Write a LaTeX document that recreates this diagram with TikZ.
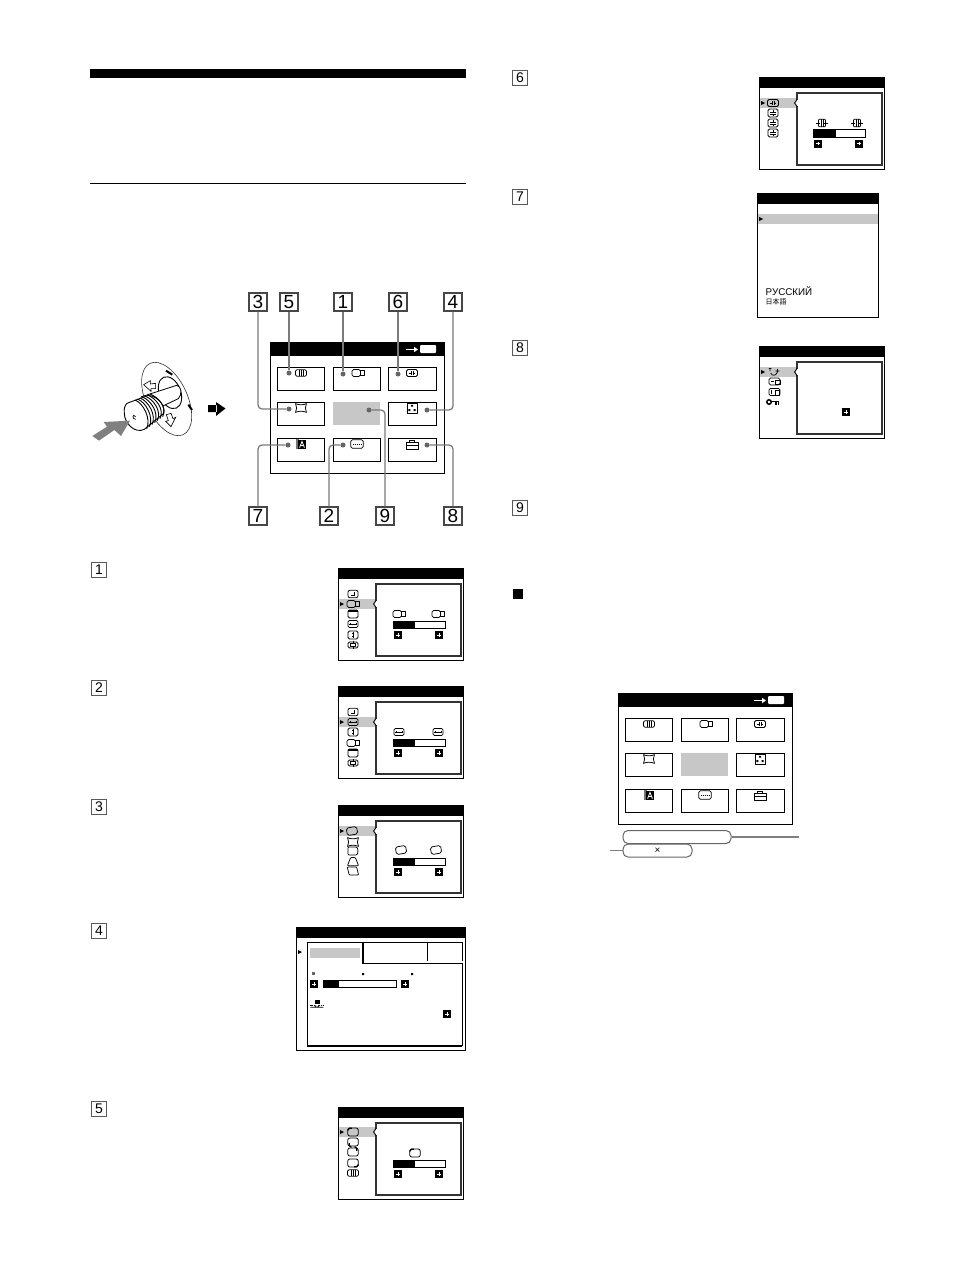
\documentclass[tikz,border=0pt]{standalone}
\usepackage{fontspec}
\setmainfont{Liberation Sans}
\newfontfamily\jpfont{Noto Sans CJK JP}
\definecolor{osdgrey}{gray}{0.78}
\tikzset{
  numbox/.style={draw=black!72,line width=1.05pt,minimum size=18pt,inner sep=0pt,font=\fontsize{19}{19}\selectfont},
  smallbox/.style={draw=black!65,line width=1pt,minimum size=14.5pt,inner sep=0pt,font=\fontsize{14}{14}\selectfont},
  leader/.style={draw=black!52,line width=1.25pt,rounded corners=4pt},
  leaddot/.style={circle,fill=black!60,minimum size=5pt,inner sep=0pt},
  softlabel/.style={draw=black!60,line width=1pt,rounded corners=5pt,inner sep=0pt},
  ico/.style={line width=.75pt,line join=round},
  frame/.style={draw=black,line width=.9pt},
  iconIII/.pic={\draw[ico,rounded corners=1.5pt] (-5.6,-3.2) rectangle (5.6,3.2);
    \draw[ico] (-2,-3)--(-2,3) (0,-3)--(0,3) (2,-3)--(2,3);},
  iconsize/.pic={\draw[ico,rounded corners=1.5pt] (-6,-3.4) rectangle (2.5,3.4);
    \draw[ico] (2.5,-2.2) rectangle (6.5,2.2);},
  iconmid/.pic={\draw[ico,rounded corners=1.5pt] (-5.5,-3.5) rectangle (5.5,3.5);
    \draw[line width=.9pt] (-.8,-2.4)--(-.8,2.4) (1,-2.4)--(1,2.4) (-3.2,0)--(-1.2,0) (1.4,0)--(3.4,0);},
  iconpin/.pic={\draw[ico] (-5.5,-4.4) .. controls (-2,-2.8) and (2,-2.8) .. (5.5,-4.4)
    .. controls (4,-1.5) and (4,1.5) .. (5.5,4.4) .. controls (2,2.8) and (-2,2.8) .. (-5.5,4.4)
    .. controls (-4,1.5) and (-4,-1.5) .. (-5.5,-4.4) -- cycle;},
  icondots/.pic={\draw[ico] (-5,-5) rectangle (5,5);
    \fill (-1,-3.2) rectangle (1,-1.4) (-3.6,1) rectangle (-1.6,3) (1.6,1) rectangle (3.6,3);},
  iconlang/.pic={\fill[black!55] (-5,-5) rectangle (-2,5);
    \fill (-3,-4) rectangle (5,5);
    \draw[white,line width=.8pt] (-1.4,3.6)--(1,-2.6)--(3.4,3.6) (-.4,1.4)--(2.4,1.4);},
  iconspan/.pic={\draw[ico,rounded corners=1.5pt] (-6.2,-4.2) rectangle (6.2,4.2);
    \draw[line width=.9pt,dash pattern=on 1.3pt off .7pt] (-4.4,0)--(4.4,0);},
  icontool/.pic={\draw[ico] (-6,-2.4) rectangle (6,4.2) (-6,.6)--(6,.6) (-2.8,-2.4)--(-2.8,-4.4)--(2.8,-4.4)--(2.8,-2.4);},
  iconclock/.pic={\draw[ico,rounded corners=2pt] (-5,-3.8) rectangle (5,3.8);
    \draw[line width=.9pt] (1.8,-1.8)--(1.8,1)--(-2,1);},
  iconshift/.pic={\draw[ico,rounded corners=1.5pt] (-5,-4) rectangle (5,4);
    \fill (-5,-4) rectangle (5,-2.2);},
  iconhoriz/.pic={\draw[ico,rounded corners=1.5pt] (-5,-3.6) rectangle (5,3.6);
    \draw[line width=.7pt] (-3.6,0)--(3.6,0) (-3,-1)--(-3,1) (3,-1)--(3,1);},
  iconvert/.pic={\draw[ico,rounded corners=1.5pt] (-5,-4) rectangle (5,4);
    \draw[line width=.9pt] (0,-2.8)--(0,2.8) (-1.2,-1.4)--(1.2,-1.4) (-1.2,1.4)--(1.2,1.4);},
  iconcross/.pic={\draw[ico,rounded corners=1.5pt] (-5,-3) rectangle (5,3);
    \draw[ico] (-2.4,-1.4) rectangle (2.4,1.4) (0,-4.4)--(0,-1.4) (0,1.4)--(0,4.4);},
  iconskew/.pic={\draw[ico,rounded corners=1.8pt,rotate=10] (-5.2,-3.8) rectangle (5.2,3.8);},
  icontrapb/.pic={\draw[ico,rounded corners=.8pt] (-5,-4)--(3.6,-4)..controls (5.2,-2) and (5.2,2)..(3.6,4)--(-5,4)--cycle;},
  icontrapa/.pic={\draw[ico,rounded corners=.8pt] (-2.4,-4.4)--(2.4,-4.4)--(5.6,3.8)--(-5.6,3.8)--cycle;},
  iconpara/.pic={\draw[ico,rounded corners=.8pt] (-5.8,-4)--(3.6,-4)--(5.6,4)--(-3.8,4)--cycle;},
  iconcorner/.pic={\draw[ico,rounded corners=2pt] (-5.2,-4) rectangle (5.2,4);
    \draw[rotate=#1,line width=1.2pt,rounded corners=1.5pt] (-5,-1.4)--(-5,-3.8)--(-1.2,-3.8);},
  iconwidth/.pic={\draw[ico,rounded corners=1pt] (-3.6,-3.8) rectangle (3.6,3.8);
    \draw[line width=1pt] (-1,-3.6)--(-1,3.6) (1,-3.6)--(1,3.6) (-6.2,0)--(-2,0) (2,0)--(6.2,0);},
  iconlines/.pic={\draw[ico,rounded corners=1.5pt] (-5,-4) rectangle (5,4);
    \draw[line width=.7pt] (-3,-1)--(3,-1) (-3,1.2)--(3,1.2) (0,-3)--(0,-1.4) (0,1.6)--(0,3);},
  icontilt/.pic={\draw[ico] (-4,-4)--(-4,-1) (-5.2,-3.4)--(-2.6,-3.4) (-3.4,1)..controls (-2,4.2) and (2,4.2)..(3.4,0)--(3.4,-3) (1.4,-1)--(5.4,-1);},
  iconhbox/.pic={\draw[ico,rounded corners=1.5pt] (-6,-3.4) rectangle (5,3.4);
    \draw[ico] (.5,-1) rectangle (5,3);\draw[line width=.7pt] (-4.4,-.4)--(-1,-.4);},
  iconvbox/.pic={\draw[ico,rounded corners=1.5pt] (-6,-3.6) rectangle (5,3.6);
    \draw[ico] (.2,-1.6) rectangle (4,3);\draw[line width=.7pt] (-3.4,-2)--(-3.4,2.4);},
  iconkey/.pic={\draw[line width=1.5pt] (-4,0) circle (2.2pt);
    \draw[line width=1.6pt] (-1.6,-.5)--(6.4,-.5);\draw[line width=1.1pt] (3,0)--(3,2.6) (5.4,0)--(5.4,2.6);},
  iconconv/.pic={\fill (-2.4,-3.6) rectangle (2.8,-.2);
    \draw[line width=1pt,dash pattern=on 1.2pt off .6pt] (-6.6,1.2)--(-2.4,1.2) (2,1.2)--(6.4,1.2);
    \draw[line width=.9pt] (-6.6,3.2)--(6.4,3.2) (-2.4,1.2)--(-.8,3.2) (2,1.2)--(.6,3.2);},
  menubtn/.pic={\fill (-3.6,-4) rectangle (3.6,4);
    \fill[white] (-1.6,-.5) rectangle (1.6,.5);\fill[white] (-.5,-1.6) rectangle (.5,1.6);},
  osdbar/.pic={\draw[line width=.9pt] (0,0) rectangle (52,7.5);
    \fill (0,0) rectangle (#1,7.5);
    \pic at (5,14) {menubtn};\pic at (46,14) {menubtn};},
  osdside/.pic={\draw[frame,fill=white] (0,0) rectangle (125.5,92);
    \fill (0,0) rectangle (125.5,11);
    \fill[osdgrey] (1,#1-5) rectangle (38,#1+5);
    \draw[black!80,line width=1.05pt,fill=white] (38,16) rectangle (123,88);
    \draw[line width=.9pt,fill=white] (38.4,#1-4)--(35.6,#1)--(38.4,#1+4);
    \fill[white] (37.6,#1-3.2) rectangle (39.2,#1+3.2);
    \fill (2,#1-2)--(6,#1)--(2,#1+2)--cycle;},
  mainmenu/.pic={\draw[frame,fill=white] (0,0) rectangle (174,131);
    \fill (0,0) rectangle (174,14);
    \fill[white,rounded corners=1pt] (150,3) rectangle (166,11);
    \draw[white,line width=.9pt] (136,7.5)--(145,7.5);
    \fill[white] (144,4.8)--(148,7.5)--(144,10.2)--cycle;
    \foreach \cx/\cw in {7/47,63/47,118/48}
      \foreach \ry in {25,60,96}
        \draw[line width=.9pt] (\cx,\ry) rectangle ++(\cw,23);
    \fill[white] (62,59) rectangle (112,84);
    \fill[osdgrey] (63,60) rectangle (110,83);
    \pic at (31,31) {iconIII};\pic at (88,31) {iconsize};\pic at (142,31) {iconmid};
    \pic at (31,66) {iconpin};\pic at (142,66) {icondots};
    \pic at (31,102) {iconlang};\pic at (87,102) {iconspan};\pic at (142,103) {icontool};},
}
\begin{document}
\begin{tikzpicture}[x=1pt,y=-1pt]
\useasboundingbox (0,0) rectangle (954,1274);
\fill (90,69) rectangle (466,78);
\draw[line width=1.1pt] (90,183.5)--(466,183.5);

% knob
\begin{scope}[shift={(85,350)},x=.3333pt,y=-.3333pt]
  \draw[line width=.6pt,black!80,fill=white,rotate around={25:(245,147)}] (245,147) ellipse (62 and 118);
  \draw[line width=.9pt,fill=white,rotate around={22:(255,128)}] (255,128) ellipse (32 and 50);
  \draw[line width=.6pt,fill=white] (176,104)--(196,92)--(196,102)--(212,100)--(212,116)--(198,116)--(198,124)--cycle;
  \draw[line width=.6pt,fill=white] (258,230)--(242,214)--(250,212)--(244,194)--(258,190)--(264,206)--(272,202)--cycle;
  \draw[line width=2pt] (243,62)--(262,74) (310,164)--(321,180);
  \draw[line width=.8pt,fill=white] (170,140)--(275,106)..controls (290,108) and (292,134)..(280,146)--(225,172)--cycle;
  \draw[line width=.9pt,fill=white] (126,160)--(190,136)..controls (226,140) and (244,176)..(234,192)--(178,238)
    ..controls (150,252) and (118,220)..(118,190)..controls (116,176) and (120,166)..(126,160)--cycle;
  \foreach \s in {0,...,6}
    \draw[line width=.9pt] (150+\s*7.5,150-\s*3) .. controls +(26,10) and +(14,-28) .. (185+\s*8,236-\s*6);
  \draw[line width=.7pt] (152,200)..controls (142,188) and (140,208)..(152,208);
  \fill[black!50] (22,258)--(66,230)--(56,216)--(135,212)--(108,258)--(88,240)--(42,272)--cycle;
\end{scope}
\fill (208,405) rectangle (217,412) (216,402)--(225.5,408.5)--(216,416)--cycle;

% main menu with call-outs
\pic at (270,342) {mainmenu};
\node[numbox] (num3) at (258,302) {3};
\node[numbox] (num5) at (289,302) {5};
\node[numbox] (num1) at (343,302) {1};
\node[numbox] (num6) at (398,302) {6};
\node[numbox] (num4) at (453,302) {4};
\node[numbox] (num7) at (258,516) {7};
\node[numbox] (num2) at (329,516) {2};
\node[numbox] (num9) at (385,516) {9};
\node[numbox] (num8) at (453,516) {8};
\node[leaddot] (dot3) at (289,409) {};
\node[leaddot] (dot5) at (289,373) {};
\node[leaddot] (dot1) at (343,374) {};
\node[leaddot] (dot6) at (398,374) {};
\node[leaddot] (dot4) at (427,410) {};
\node[leaddot] (dot7) at (288,445) {};
\node[leaddot] (dot2) at (343,445) {};
\node[leaddot] (dot9) at (369,410) {};
\node[leaddot] (dot8) at (427,445) {};
\draw[leader] (num3.south) |- (dot3);
\draw[leader] (num5.south) -- (dot5);
\draw[leader] (num1.south) -- (dot1);
\draw[leader] (num6.south) -- (dot6);
\draw[leader] (num4.south) |- (dot4);
\draw[leader] (num7.north) |- (dot7);
\draw[leader] (num2.north) |- (dot2);
\draw[leader] (num9.north) |- (dot9);
\draw[leader] (num8.north) |- (dot8);

% item numbers
\foreach \nm/\px/\py in {1/99/570,2/99/688,3/99/807,4/99/931,5/99/1109,6/520/78,7/520/197,8/520/348,9/520/508}
  \node[smallbox] (item\nm) at (\px,\py) {\nm};
\fill (513,589) rectangle (523,599);

% panel 1
\pic at (338,568) {osdside=36};
\pic at (353,594) {iconclock};\pic at (353,604) {iconsize};\pic at (353,614) {iconshift};
\pic at (353,624) {iconhoriz};\pic at (353,635) {iconvert};\pic at (353,645) {iconcross};
\pic at (399,614) {iconsize};\pic at (438,614) {iconsize};
\pic at (393,621) {osdbar=22};

% panel 2
\pic at (338,686) {osdside=36};
\pic at (353,712) {iconclock};\pic at (353,722) {iconhoriz};\pic at (353,732) {iconvert};
\pic at (353,743) {iconsize};\pic at (353,753) {iconshift};\pic at (353,763) {iconcross};
\pic at (399,732) {iconhoriz};\pic at (438,732) {iconhoriz};
\pic at (393,739) {osdbar=22};

% panel 3
\pic at (338,805) {osdside=26};
\pic at (352,831) {iconskew};\pic at (353,842) {iconpin};\pic at (353,851) {icontrapb};
\pic at (353,862) {icontrapa};\pic at (353,871) {iconpara};
\pic at (401,850) {iconskew};\pic at (436,850) {iconskew};
\pic at (393,858) {osdbar=22};

% panel 4
\draw[frame] (296,927) rectangle (465.5,1050);
\fill (296,927) rectangle (465.5,938);
\fill[osdgrey] (310,948) rectangle (360,958);
\draw[line width=.9pt] (307,1046)--(307,942)--(363,942) (363,942)--(462,942) (427,942)--(427,961) (462,942)--(462,961);
\draw[line width=1.4pt] (363,942)--(363,963.5);
\draw[line width=.9pt] (362.5,963)--(462,963)--(462,1046);
\draw[line width=1.4pt] (307,1046)--(462,1046);
\fill (298,950)--(302,952)--(298,954)--cycle;
\fill[black!60] (311.5,971.5) rectangle (314.5,974.5);
\fill (362,973) rectangle (364,975) (411,973) rectangle (413,975);
\pic at (314,984) {menubtn};\pic at (405,984) {menubtn};
\draw[line width=.9pt] (323,980.5) rectangle (396,987.5);
\fill (323,980.5) rectangle (339,987.5);
\pic at (317,1004) {iconconv};
\pic at (447,1014) {menubtn};

% panel 5
\pic at (338,1107) {osdside=25};
\pic at (353,1132) {iconcorner=0};\pic at (353,1142) {iconcorner=90};\pic at (353,1152) {iconcorner=270};
\pic at (353,1163) {iconcorner=180};\pic at (353,1173) {iconIII};
\pic at (415,1153) {iconcorner=0};
\pic at (393,1160) {osdbar=22};

% panel 6
\pic at (759,77) {osdside=26};
\pic at (773,103) {iconmid};\pic at (773,113) {iconlines};\pic at (773,123) {iconlines};\pic at (773,133) {iconlines};
\pic at (822,123) {iconwidth};\pic at (857,123) {iconwidth};
\pic at (813,129.5) {osdbar=23};

% panel 7
\draw[frame] (757,193) rectangle (878,317);
\fill (757,193) rectangle (878,204);
\fill[osdgrey] (758,214) rectangle (877.5,224);
\fill (759,217)--(763,219)--(759,221)--cycle;
\node[anchor=west,inner sep=0pt,font=\fontsize{9.8}{10}\selectfont] (langru) at (765.5,291) {РУССКИЙ};
\node[anchor=west,inner sep=0pt,font=\fontsize{7}{8}\selectfont\jpfont] (langjp) at (765.5,302) {日本語};

% panel 8
\pic at (759,346) {osdside=26};
\pic at (774,372) {icontilt};\pic at (775,381.5) {iconhbox};\pic at (775,392) {iconvbox};\pic at (773,402) {iconkey};
\pic at (846,412) {menubtn};

% menu with the two tags
\pic at (618,693) {mainmenu};
\node[softlabel,minimum width=108pt,minimum height=13pt] (tagtop) at (677,837) {};
\node[softlabel,minimum width=69pt,minimum height=13pt,font=\fontsize{10}{10}\selectfont] (tagbot) at (657.5,850.5) {×};
\coordinate (tagtopend) at (799,837);
\coordinate (tagbotend) at (610,850.5);
\draw[draw=black!50,line width=1.1pt] (tagtop) -- (tagtopend);
\draw[draw=black!50,line width=1.1pt] (tagbot) -- (tagbotend);
\end{tikzpicture}
\end{document}
